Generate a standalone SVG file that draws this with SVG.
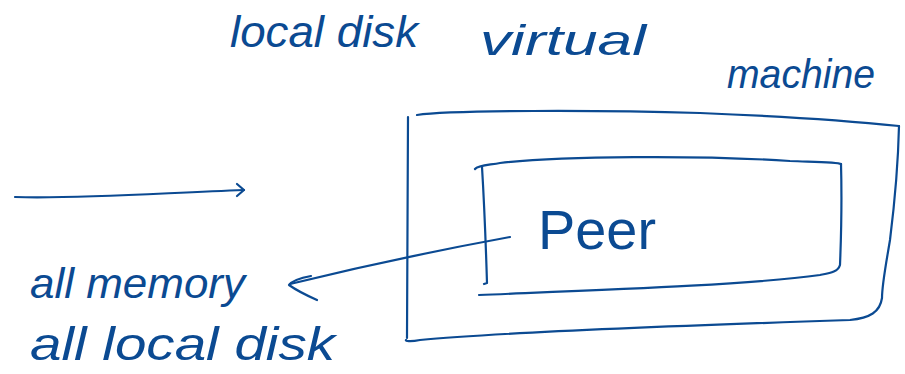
<svg xmlns="http://www.w3.org/2000/svg" width="905" height="374" viewBox="0 0 905 374">
<style>
.s{fill:none;stroke:#0b4a92;stroke-width:2.2;stroke-linecap:round;stroke-linejoin:round}
.t{fill:#0b4a92;font-family:"Liberation Sans",Arial,sans-serif;font-style:italic}
</style>
<rect width="905" height="374" fill="#fff"/>
<g id="label-local-disk"><text class="t" x="230" y="47" font-size="44" textLength="188" lengthAdjust="spacingAndGlyphs">local disk</text></g>
<g id="label-vm">
<text class="t" x="480" y="55" font-size="42" textLength="166" lengthAdjust="spacingAndGlyphs">virtual</text>
<text class="t" x="727" y="88" font-size="40" textLength="148" lengthAdjust="spacingAndGlyphs">machine</text>
</g>
<g id="vm-box">
<path class="s" d="M408 117 L407 338"/>
<path class="s" d="M417 115 C450 110 600 110 700 113 C800 117 860 122 899 126"/>
<path class="s" d="M899 126 C898 170 895 200 890 240 C885 270 882 285 882 298 C880 312 870 318 850 320 C700 325 500 332 420 340 C410 342 405 341 406 340"/>
</g>
<g id="peer-box">
<path class="s" d="M475 169 C478 165 490 165 500 163 C560 156 700 155 790 161 C820 162 838 162 841 164"/>
<path class="s" d="M841 164 C842 200 841 240 840 265 C838 272 830 273 820 275 C750 285 600 290 479 295"/>
<path class="s" d="M482 167 C484 200 486 250 487 283 L484 284"/>
<text class="t" x="538" y="249" font-size="56" textLength="118" lengthAdjust="spacingAndGlyphs" style="font-style:normal">Peer</text>
</g>
<g id="label-all">
<text class="t" x="30" y="298" font-size="42" textLength="215" lengthAdjust="spacingAndGlyphs">all memory</text>
<text class="t" x="30" y="360" font-size="46" textLength="305" lengthAdjust="spacingAndGlyphs">all local disk</text>
</g>
<g id="connectors">
<path class="s" d="M15 197 C80 199 160 193 244 190"/>
<path class="s" d="M237 184 L244 190 L237 196"/>
<path class="s" d="M510 237 C450 248 380 262 290 284"/>
<path class="s" d="M311 276 C300 278 292 281 289 285 C296 290 308 296 317 300"/>
</g>
</svg>
